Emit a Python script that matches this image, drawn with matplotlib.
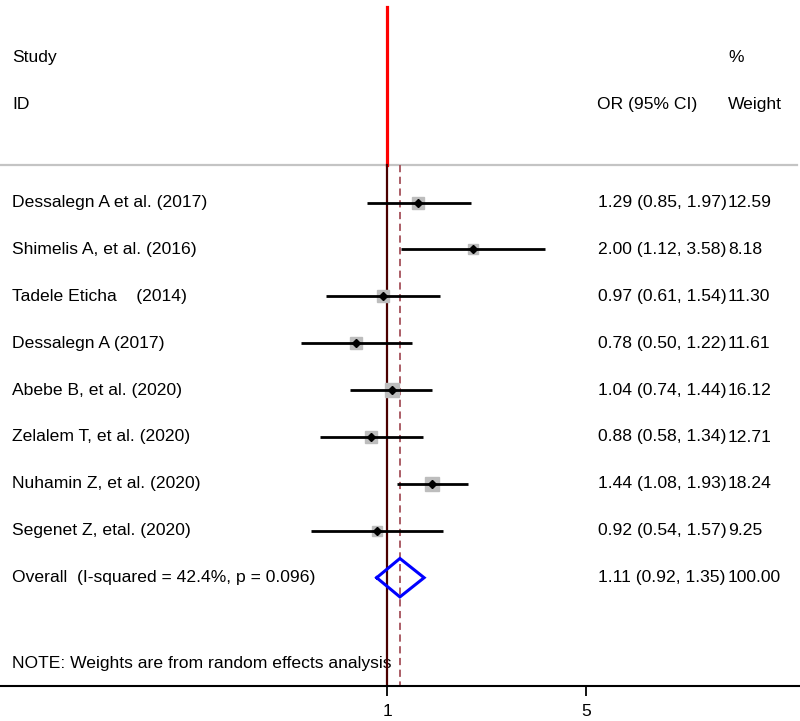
import numpy as np
import matplotlib
matplotlib.use("Agg")
import matplotlib.pyplot as plt

plt.rcParams['font.family'] = ['Liberation Sans', 'DejaVu Sans']

studies = ["Dessalegn A et al. (2017)", "Shimelis A, et al. (2016)", "Tadele Eticha    (2014)",
           "Dessalegn A (2017)", "Abebe B, et al. (2020)", "Zelalem T, et al. (2020)",
           "Nuhamin Z, et al. (2020)", "Segenet Z, etal. (2020)"]
ors = [1.29, 2.00, 0.97, 0.78, 1.04, 0.88, 1.44, 0.92]
lows = [0.85, 1.12, 0.61, 0.50, 0.74, 0.58, 1.08, 0.54]
highs = [1.97, 3.58, 1.54, 1.22, 1.44, 1.34, 1.93, 1.57]
weights = [12.59, 8.18, 11.30, 11.61, 16.12, 12.71, 18.24, 9.25]
overall_label = "Overall  (I-squared = 42.4%, p = 0.096)"
overall = [1.11, 0.92, 1.35]
overall_weight = "100.00"
xticks = [1, 5]
note = "NOTE: Weights are from random effects analysis"

W, H = 800, 721
fig = plt.figure(figsize=(W/100, H/100), dpi=100)
ax_bottom_px = 686
ax = fig.add_axes([0, 1 - ax_bottom_px/H, 1, ax_bottom_px/H])
ax.set_xscale('log')
row0, step = 202.5, 46.9
ax.set_xlim(np.exp(-387/123.65), np.exp(413/123.65))
ax.set_ylim((ax_bottom_px - row0)/step, (0 - row0)/step)

fs = 12.6
for s in ['top', 'left', 'right']:
    ax.spines[s].set_visible(False)
ax.spines['bottom'].set_linewidth(1.5)
ax.set_yticks([])
ax.set_xticks(xticks)
ax.set_xticklabels([str(t) for t in xticks], fontsize=fs)
ax.xaxis.set_minor_locator(matplotlib.ticker.NullLocator())
ax.tick_params(axis='x', length=7, width=1.3, pad=6)

yT = ax.get_yaxis_transform()
# header
ax.text(12/W, -3.1, "Study", transform=yT, fontsize=fs, va='center', ha='left')
ax.text(12/W, -2.1, "ID", transform=yT, fontsize=fs, va='center', ha='left')
ax.text(728/W, -3.1, "%", transform=yT, fontsize=fs, va='center', ha='left')
ax.text(597/W, -2.1, "OR (95% CI)", transform=yT, fontsize=fs, va='center', ha='left')
ax.text(728/W, -2.1, "Weight", transform=yT, fontsize=fs, va='center', ha='left')

# gray separator
ax.plot([0, 797/W], [-0.8, -0.8], transform=yT, color='#c4c4c4', lw=1.6, zorder=1)

# reference lines
ax.plot([1, 1], [(7 - row0)/step, -0.8], color='#ff0000', lw=2.3, zorder=2)
ax.plot([1, 1], [-0.8, (ax_bottom_px - row0)/step], color='#4a0000', lw=1.6, zorder=2)
ax.plot([overall[0], overall[0]], [-0.8, (ax_bottom_px - row0)/step], color='#a5515a',
        lw=1.3, ls=(0, (4, 2.5)), zorder=2)

for i, (lab, o, lo, hi, w) in enumerate(zip(studies, ors, lows, highs, weights)):
    ax.text(12/W, i, lab, transform=yT, fontsize=fs, va='center', ha='left')
    ax.text(598/W, i, f"{o:.2f} ({lo:.2f}, {hi:.2f})", transform=yT, fontsize=fs, va='center', ha='left')
    ax.text(728/W, i, f"{w:.2f}", transform=yT, fontsize=fs, va='center', ha='left')
    side_px = 3.28*np.sqrt(w)
    ax.plot([o], [i], marker='s', ms=side_px/1.389, color='#bdbdbd', mec='#bdbdbd', zorder=3)
    ax.plot([lo, hi], [i, i], color='black', lw=2.0, zorder=4, solid_capstyle='butt')
    ax.plot([o], [i], marker='D', ms=4.2, color='black', zorder=5)

n = len(studies)
ax.text(12/W, n, overall_label, transform=yT, fontsize=fs, va='center', ha='left')
ax.text(598/W, n, f"{overall[0]:.2f} ({overall[1]:.2f}, {overall[2]:.2f})", transform=yT,
        fontsize=fs, va='center', ha='left')
ax.text(728/W, n, overall_weight, transform=yT, fontsize=fs, va='center', ha='left')
dh = 0.41
ax.plot([overall[1], overall[0], overall[2], overall[0], overall[1]],
        [n, n - dh, n, n + dh, n], color='#0000ff', lw=2.2, zorder=6, solid_joinstyle='miter')

ax.text(12/W, 9.82, note, transform=yT, fontsize=fs, va='center', ha='left', zorder=1)

fig.savefig("out.png", dpi=100)
